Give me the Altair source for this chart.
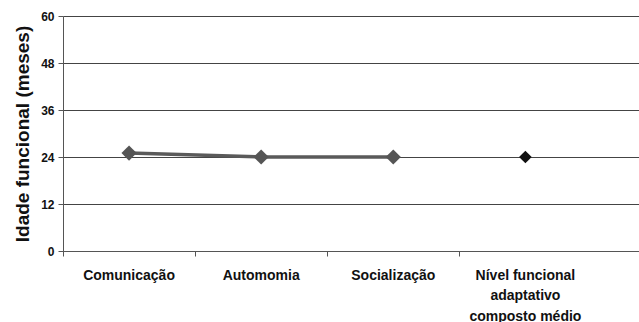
import altair as alt
import pandas as pd

categories = ["Comunicação", "Automomia", "Socialização", "Nível funcional|adaptativo|composto médio"]
values = [25, 24, 24, 24]
groups = ["domain", "domain", "domain", "composite"]
y_ticks = [0, 12, 24, 36, 48, 60]

df = pd.DataFrame({"cat": categories, "val": values, "grp": groups})

FONT = "Liberation Sans"

x = alt.X(
    "cat:N", sort=categories, title=None,
    scale=alt.Scale(type="band", paddingInner=0, paddingOuter=0.18, align=0),
    axis=alt.Axis(
        labelAngle=0, labelExpr="split(datum.label, '|')",
        labelFont=FONT, labelFontSize=14, labelFontWeight="bold", labelColor="#111",
        labelLineHeight=20.5, labelPadding=12, labelLimit=300,
        tickSize=5, tickColor="#555", domainColor="#555", bandPosition=0,
    ),
)
y = alt.Y(
    "val:Q", title="Idade funcional (meses)",
    scale=alt.Scale(domain=[0, 60], nice=False, zero=True),
    axis=alt.Axis(
        values=y_ticks, grid=True, gridColor="#444", gridWidth=1,
        labelFont=FONT, labelFontSize=12, labelFontWeight="bold", labelColor="#111",
        labelPadding=4, tickSize=5, tickColor="#555", domainColor="#555",
        titleFont=FONT, titleFontSize=19, titleFontWeight="bold", titleColor="#111",
        titlePadding=8,
    ),
)

base = alt.Chart(df)
dom = base.transform_filter(alt.datum.grp == "domain")
comp = base.transform_filter(alt.datum.grp == "composite")

line = dom.mark_line(color="#5a5a5a", strokeWidth=3.5).encode(x=x, y=y)
pts = dom.mark_point(shape="diamond", filled=True, color="#555555", size=230, opacity=1).encode(x=x, y=y)
cpt = comp.mark_point(shape="diamond", filled=True, color="#111111", size=160, opacity=1).encode(x=x, y=y)

chart = alt.layer(line, pts, cpt).properties(
    width=576, height=235,
    autosize=alt.AutoSizeParams(type="none"),
    padding={"left": 63, "top": 16, "right": 0, "bottom": 71},
).configure_view(stroke=None)

chart.save("out.html", embed_options={"renderer": "svg", "actions": False})
